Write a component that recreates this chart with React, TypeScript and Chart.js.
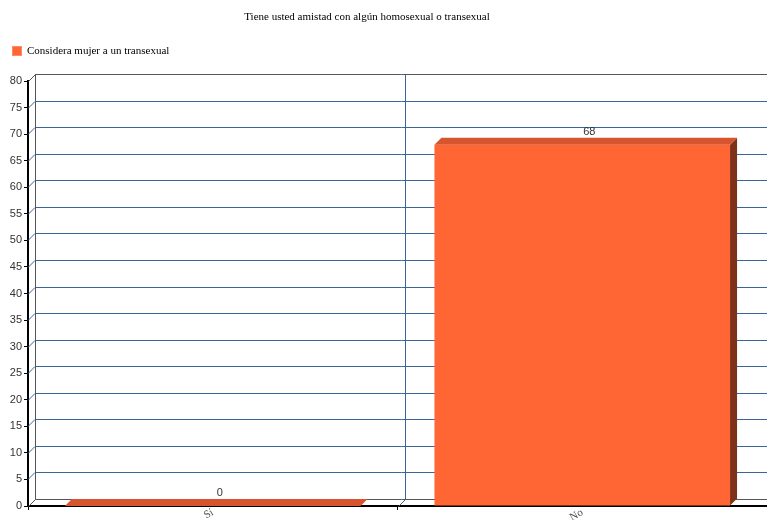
import React, { useEffect, useRef } from 'react';
import { Chart, registerables } from 'chart.js';

Chart.register(...registerables);

const TITLE = 'Tiene usted amistad con algún homosexual o transexual';
const SERIES_LABEL = 'Considera mujer a un transexual';
const categories = ['Sí', 'No'];
const values = [0, 68];
const Y_MIN = 0;
const Y_MAX = 80;
const Y_STEP = 5;

const DX = 7;
const DY = 7;
const FRONT = '#FF6633';
const TOP = '#D6552E';
const SIDE = '#7E3218';
const GRID = '#3A659A';
const DARK = '#333333';
const SERIF = "'Liberation Serif', 'Times New Roman', serif";
const SANS = "'Liberation Sans', Arial, sans-serif";

const threeD = {
  id: 'threeD',
  beforeDraw(chart: any) {
    const { ctx } = chart;
    ctx.save();
    ctx.fillStyle = '#ffffff';
    ctx.fillRect(0, 0, chart.width, chart.height);
    // title
    ctx.fillStyle = '#000000';
    ctx.font = `11px ${SERIF}`;
    ctx.textAlign = 'center';
    ctx.textBaseline = 'middle';
    ctx.fillText(TITLE, 367, 17);
    // legend
    ctx.fillStyle = FRONT;
    ctx.fillRect(12, 46, 10, 10);
    ctx.strokeStyle = '#FF8C66';
    ctx.lineWidth = 1;
    ctx.strokeRect(12.5, 46.5, 9, 9);
    ctx.fillStyle = '#000000';
    ctx.textAlign = 'left';
    ctx.fillText(SERIES_LABEL, 27, 51);
    ctx.restore();
  },
  beforeDatasetsDraw(chart: any) {
    const { ctx, chartArea: a, scales } = chart;
    const x = scales.x;
    const y = scales.y;
    ctx.save();
    ctx.lineWidth = 1;
    // back-wall grid lines with left-wall diagonals
    ctx.strokeStyle = GRID;
    for (let v = Y_MIN + Y_STEP; v < Y_MAX; v += Y_STEP) {
      const py = Math.round(y.getPixelForValue(v)) + 0.5;
      ctx.beginPath();
      ctx.moveTo(a.left, py);
      ctx.lineTo(a.left + DX, py - DY);
      ctx.lineTo(a.right + DX, py - DY);
      ctx.stroke();
    }
    // category dividers
    for (let i = 1; i < categories.length; i++) {
      const px = Math.round((x.getPixelForValue(i - 1) + x.getPixelForValue(i)) / 2) + 0.5;
      const top = Math.round(y.getPixelForValue(Y_MAX)) + 0.5 - DY;
      const bot = Math.round(y.getPixelForValue(Y_MIN)) + 0.5;
      ctx.beginPath();
      ctx.moveTo(px, bot);
      ctx.lineTo(px + DX, bot - DY);
      ctx.lineTo(px + DX, top);
      ctx.stroke();
    }
    // back-wall frame
    ctx.strokeStyle = '#555555';
    const topY = Math.round(y.getPixelForValue(Y_MAX)) + 0.5;
    const botY = Math.round(y.getPixelForValue(Y_MIN)) + 0.5;
    const lx = Math.round(a.left) + 0.5;
    ctx.beginPath();
    ctx.moveTo(lx, topY);
    ctx.lineTo(lx + DX, topY - DY);
    ctx.lineTo(a.right + DX, topY - DY);
    ctx.stroke();
    ctx.beginPath();
    ctx.moveTo(lx + DX, topY - DY);
    ctx.lineTo(lx + DX, botY - DY);
    ctx.lineTo(a.right + DX, botY - DY);
    ctx.stroke();
    ctx.beginPath();
    ctx.moveTo(lx, botY);
    ctx.lineTo(lx + DX, botY - DY);
    ctx.stroke();
    ctx.restore();
  },
  afterDatasetsDraw(chart: any) {
    const { ctx } = chart;
    const meta = chart.getDatasetMeta(0);
    ctx.save();
    meta.data.forEach((bar: any, i: number) => {
      const p = bar.getProps(['x', 'y', 'base', 'width'], true);
      const x1 = p.x - p.width / 2;
      const x2 = p.x + p.width / 2;
      const t = p.y;
      const b = p.base;
      // side face
      if (b - t > 0.5) {
        ctx.fillStyle = SIDE;
        ctx.beginPath();
        ctx.moveTo(x2, t);
        ctx.lineTo(x2 + DX, t - DY);
        ctx.lineTo(x2 + DX, b - DY);
        ctx.lineTo(x2, b);
        ctx.closePath();
        ctx.fill();
      }
      // top face
      ctx.fillStyle = TOP;
      ctx.beginPath();
      ctx.moveTo(x1, t);
      ctx.lineTo(x1 + DX, t - DY);
      ctx.lineTo(x2 + DX, t - DY);
      ctx.lineTo(x2, t);
      ctx.closePath();
      ctx.fill();
      // value label
      ctx.fillStyle = DARK;
      ctx.font = `11px ${SANS}`;
      ctx.textAlign = 'center';
      ctx.textBaseline = 'alphabetic';
      ctx.fillText(String(values[i]), p.x + DX, t - DY - 3);
    });
    ctx.restore();
  },
};

export default function App() {
  const ref = useRef<HTMLCanvasElement>(null);
  useEffect(() => {
    document.body.style.margin = '0';
    const canvas = ref.current;
    if (!canvas) return;
    const chart = new Chart(canvas, {
      type: 'bar',
      data: {
        labels: categories,
        datasets: [
          {
            label: SERIES_LABEL,
            data: values,
            backgroundColor: FRONT,
            borderWidth: 0,
            categoryPercentage: 0.8,
            barPercentage: 1,
          },
        ],
      },
      options: {
        responsive: false,
        animation: false,
        devicePixelRatio: 1,
        layout: { padding: { top: 81, right: 0, left: 0, bottom: 0 } },
        plugins: {
          legend: { display: false },
          title: { display: false },
          tooltip: { enabled: false },
        },
        scales: {
          x: {
            grid: {
              display: true,
              drawOnChartArea: false,
              drawTicks: true,
              tickLength: 4,
              color: '#000000',
              offset: true,
            },
            border: { display: true, color: '#000000', width: 2 },
            ticks: {
              color: '#555555',
              font: { family: SERIF, size: 11 },
              maxRotation: 30,
              minRotation: 30,
              padding: -4,
            },
            afterFit: (scale: any) => {
              scale.height = 14;
            },
          },
          y: {
            min: Y_MIN,
            max: Y_MAX,
            grid: {
              display: true,
              drawOnChartArea: false,
              drawTicks: true,
              tickLength: 4,
              color: '#000000',
            },
            border: { display: true, color: '#000000', width: 2 },
            ticks: {
              stepSize: Y_STEP,
              color: DARK,
              font: { family: SANS, size: 11 },
              padding: 2,
            },
            afterFit: (scale: any) => {
              scale.width = 28;
            },
          },
        },
      },
      plugins: [threeD],
    });
    return () => chart.destroy();
  }, []);
  return <canvas ref={ref} width={767} height={520} style={{ display: 'block' }} />;
}
